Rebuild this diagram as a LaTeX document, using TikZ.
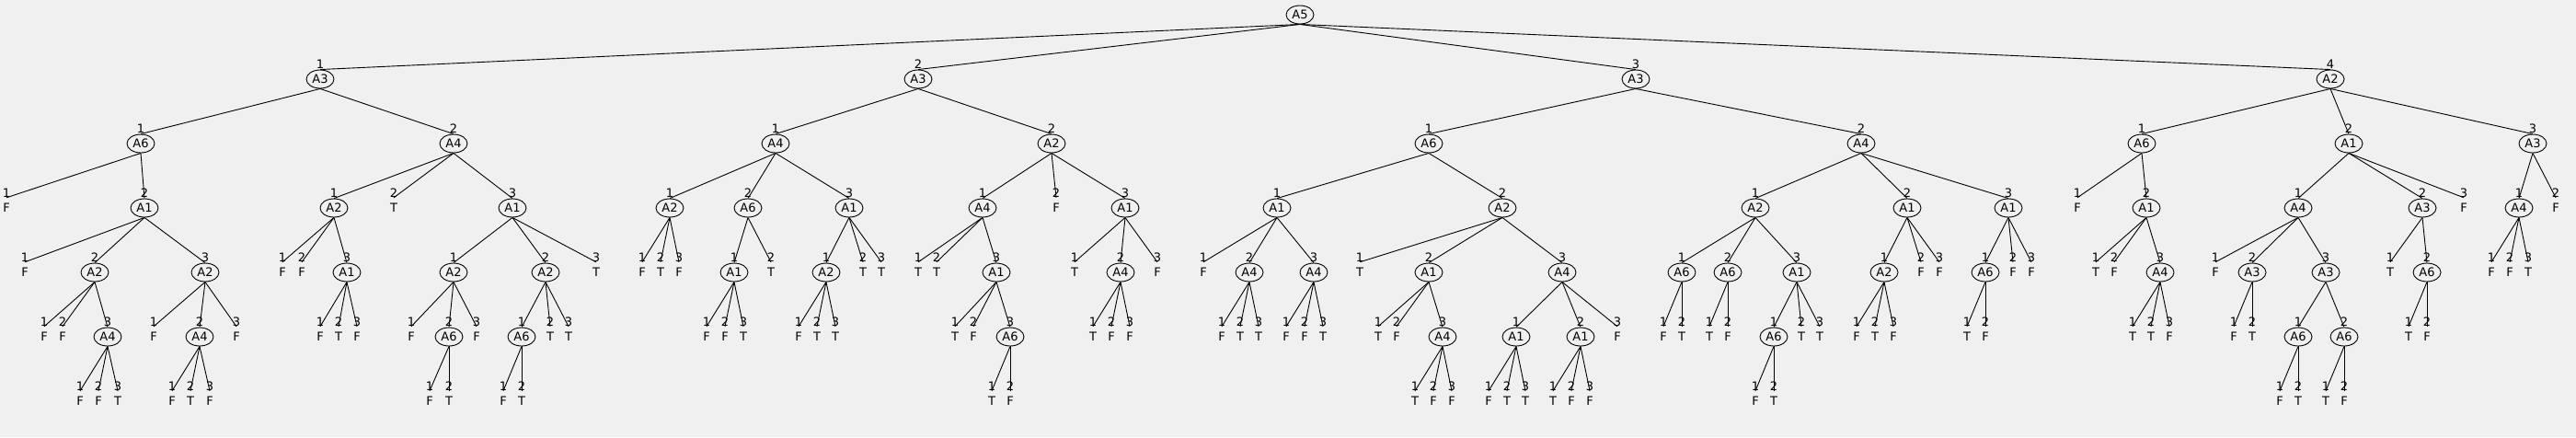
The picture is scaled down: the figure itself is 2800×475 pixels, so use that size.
\documentclass[tikz,border=0pt]{standalone}
\usepackage{fontspec}
\setmainfont{DejaVu Sans}
\usetikzlibrary{shapes.geometric}
\definecolor{bgc}{HTML}{F0F0F0}
\tikzset{
  att/.style={ellipse,draw=black,line width=0.9pt,minimum width=30pt,minimum height=20pt,inner sep=0pt,font=\fontsize{13}{15}\selectfont},
  leafn/.style={minimum height=22pt,inner sep=0pt,font=\fontsize{13}{15}\selectfont},
  brnum/.style={inner sep=0pt,font=\fontsize{13}{15}\selectfont},
  edge/.style={draw=black,line width=0.9pt}
}
\newcommand\In[5]{%
  \node[att] (#1#2) at (#3,{16+70*#4}) {#5};
  \node[brnum] (#1#2n) at (#3,{16+70*#4-16.5}) {#2};
  \draw[edge] (#1.south) -- (#1#2.north);}
\newcommand\Lf[5]{%
  \node[leafn] (#1#2) at (#3,{16+70*#4}) {#5};
  \node[brnum] (#1#2n) at (#3,{16+70*#4-16.5}) {#2};
  \draw[edge] (#1.south) -- (#1#2.north);}
\begin{document}
\begin{tikzpicture}[x=1pt,y=-1pt]
\fill[bgc] (0,0) rectangle (2800,475);
\useasboundingbox (0,0) rectangle (2800,475);
\node[att] (r) at (1413,16) {A5};
% branch 1
\In{r}{1}{348}{1}{A3}
 \In{r1}{1}{153}{2}{A6}
  \Lf{r11}{1}{7}{3}{F}
  \In{r11}{2}{157}{3}{A1}
   \Lf{r112}{1}{27}{4}{F}
   \In{r112}{2}{103}{4}{A2}
    \Lf{r1122}{1}{48}{5}{F}
    \Lf{r1122}{2}{68}{5}{F}
    \In{r1122}{3}{117}{5}{A4}
     \Lf{r11223}{1}{87}{6}{F}
     \Lf{r11223}{2}{107}{6}{F}
     \Lf{r11223}{3}{128}{6}{T}
   \In{r112}{3}{223}{4}{A2}
    \Lf{r1123}{1}{167}{5}{F}
    \In{r1123}{2}{217}{5}{A4}
     \Lf{r11232}{1}{187}{6}{F}
     \Lf{r11232}{2}{207}{6}{T}
     \Lf{r11232}{3}{228}{6}{F}
    \Lf{r1123}{3}{257}{5}{F}
 \In{r1}{2}{493}{2}{A4}
  \In{r12}{1}{363}{3}{A2}
   \Lf{r121}{1}{307}{4}{F}
   \Lf{r121}{2}{328}{4}{F}
   \In{r121}{3}{377}{4}{A1}
    \Lf{r1213}{1}{348}{5}{F}
    \Lf{r1213}{2}{368}{5}{T}
    \Lf{r1213}{3}{388}{5}{F}
  \Lf{r12}{2}{428}{3}{T}
  \In{r12}{3}{557}{3}{A1}
   \In{r123}{1}{493}{4}{A2}
    \Lf{r1231}{1}{447}{5}{F}
    \In{r1231}{2}{488}{5}{A6}
     \Lf{r12312}{1}{467}{6}{F}
     \Lf{r12312}{2}{488}{6}{T}
    \Lf{r1231}{3}{518}{5}{F}
   \In{r123}{2}{593}{4}{A2}
    \In{r1232}{1}{567}{5}{A6}
     \Lf{r12321}{1}{547}{6}{F}
     \Lf{r12321}{2}{567}{6}{T}
    \Lf{r1232}{2}{598}{5}{T}
    \Lf{r1232}{3}{618}{5}{T}
   \Lf{r123}{3}{648}{4}{T}
% branch 2
\In{r}{2}{998}{1}{A3}
 \In{r2}{1}{843}{2}{A4}
  \In{r21}{1}{728}{3}{A2}
   \Lf{r211}{1}{698}{4}{F}
   \Lf{r211}{2}{718}{4}{T}
   \Lf{r211}{3}{738}{4}{F}
  \In{r21}{2}{813}{3}{A6}
   \In{r212}{1}{798}{4}{A1}
    \Lf{r2121}{1}{768}{5}{F}
    \Lf{r2121}{2}{788}{5}{F}
    \Lf{r2121}{3}{808}{5}{T}
   \Lf{r212}{2}{838}{4}{T}
  \In{r21}{3}{923}{3}{A1}
   \In{r213}{1}{898}{4}{A2}
    \Lf{r2131}{1}{868}{5}{F}
    \Lf{r2131}{2}{888}{5}{T}
    \Lf{r2131}{3}{908}{5}{T}
   \Lf{r213}{2}{938}{4}{T}
   \Lf{r213}{3}{958}{4}{T}
 \In{r2}{2}{1143}{2}{A2}
  \In{r22}{1}{1068}{3}{A4}
   \Lf{r221}{1}{998}{4}{T}
   \Lf{r221}{2}{1018}{4}{T}
   \In{r221}{3}{1083}{4}{A1}
    \Lf{r2213}{1}{1038}{5}{T}
    \Lf{r2213}{2}{1058}{5}{F}
    \In{r2213}{3}{1098}{5}{A6}
     \Lf{r22133}{1}{1078}{6}{T}
     \Lf{r22133}{2}{1098}{6}{F}
  \Lf{r22}{2}{1148}{3}{F}
  \In{r22}{3}{1223}{3}{A1}
   \Lf{r223}{1}{1168}{4}{T}
   \In{r223}{2}{1218}{4}{A4}
    \Lf{r2232}{1}{1188}{5}{T}
    \Lf{r2232}{2}{1208}{5}{F}
    \Lf{r2232}{3}{1228}{5}{F}
   \Lf{r223}{3}{1258}{4}{F}
% branch 3
\In{r}{3}{1778}{1}{A3}
 \In{r3}{1}{1553}{2}{A6}
  \In{r31}{1}{1388}{3}{A1}
   \Lf{r311}{1}{1308}{4}{F}
   \In{r311}{2}{1358}{4}{A4}
    \Lf{r3112}{1}{1328}{5}{F}
    \Lf{r3112}{2}{1348}{5}{T}
    \Lf{r3112}{3}{1368}{5}{T}
   \In{r311}{3}{1428}{4}{A4}
    \Lf{r3113}{1}{1398}{5}{F}
    \Lf{r3113}{2}{1418}{5}{F}
    \Lf{r3113}{3}{1438}{5}{T}
  \In{r31}{2}{1633}{3}{A2}
   \Lf{r312}{1}{1478}{4}{T}
   \In{r312}{2}{1553}{4}{A1}
    \Lf{r3122}{1}{1498}{5}{T}
    \Lf{r3122}{2}{1518}{5}{F}
    \In{r3122}{3}{1568}{5}{A4}
     \Lf{r31223}{1}{1538}{6}{T}
     \Lf{r31223}{2}{1558}{6}{F}
     \Lf{r31223}{3}{1578}{6}{F}
   \In{r312}{3}{1698}{4}{A4}
    \In{r3123}{1}{1648}{5}{A1}
     \Lf{r31231}{1}{1618}{6}{F}
     \Lf{r31231}{2}{1638}{6}{T}
     \Lf{r31231}{3}{1658}{6}{T}
    \In{r3123}{2}{1718}{5}{A1}
     \Lf{r31232}{1}{1688}{6}{T}
     \Lf{r31232}{2}{1708}{6}{F}
     \Lf{r31232}{3}{1728}{6}{F}
    \Lf{r3123}{3}{1758}{5}{F}
 \In{r3}{2}{2023}{2}{A4}
  \In{r32}{1}{1908}{3}{A2}
   \In{r321}{1}{1828}{4}{A6}
    \Lf{r3211}{1}{1808}{5}{F}
    \Lf{r3211}{2}{1828}{5}{T}
   \In{r321}{2}{1878}{4}{A6}
    \Lf{r3212}{1}{1858}{5}{T}
    \Lf{r3212}{2}{1878}{5}{F}
   \In{r321}{3}{1953}{4}{A1}
    \In{r3213}{1}{1928}{5}{A6}
     \Lf{r32131}{1}{1908}{6}{F}
     \Lf{r32131}{2}{1928}{6}{T}
    \Lf{r3213}{2}{1958}{5}{T}
    \Lf{r3213}{3}{1978}{5}{T}
  \In{r32}{2}{2073}{3}{A1}
   \In{r322}{1}{2048}{4}{A2}
    \Lf{r3221}{1}{2018}{5}{F}
    \Lf{r3221}{2}{2038}{5}{T}
    \Lf{r3221}{3}{2058}{5}{F}
   \Lf{r322}{2}{2088}{4}{F}
   \Lf{r322}{3}{2108}{4}{F}
  \In{r32}{3}{2183}{3}{A1}
   \In{r323}{1}{2158}{4}{A6}
    \Lf{r3231}{1}{2138}{5}{T}
    \Lf{r3231}{2}{2158}{5}{F}
   \Lf{r323}{2}{2188}{4}{F}
   \Lf{r323}{3}{2208}{4}{F}
% branch 4
\In{r}{4}{2533}{1}{A2}
 \In{r4}{1}{2328}{2}{A6}
  \Lf{r41}{1}{2258}{3}{F}
  \In{r41}{2}{2333}{3}{A1}
   \Lf{r412}{1}{2278}{4}{T}
   \Lf{r412}{2}{2298}{4}{F}
   \In{r412}{3}{2348}{4}{A4}
    \Lf{r4123}{1}{2318}{5}{T}
    \Lf{r4123}{2}{2338}{5}{T}
    \Lf{r4123}{3}{2358}{5}{F}
 \In{r4}{2}{2553}{2}{A1}
  \In{r42}{1}{2498}{3}{A4}
   \Lf{r421}{1}{2408}{4}{F}
   \In{r421}{2}{2448}{4}{A3}
    \Lf{r4212}{1}{2428}{5}{F}
    \Lf{r4212}{2}{2448}{5}{T}
   \In{r421}{3}{2528}{4}{A3}
    \In{r4213}{1}{2498}{5}{A6}
     \Lf{r42131}{1}{2478}{6}{F}
     \Lf{r42131}{2}{2498}{6}{T}
    \In{r4213}{2}{2548}{5}{A6}
     \Lf{r42132}{1}{2528}{6}{T}
     \Lf{r42132}{2}{2548}{6}{F}
  \In{r42}{2}{2633}{3}{A3}
   \Lf{r422}{1}{2598}{4}{T}
   \In{r422}{2}{2638}{4}{A6}
    \Lf{r4222}{1}{2618}{5}{T}
    \Lf{r4222}{2}{2638}{5}{F}
  \Lf{r42}{3}{2678}{3}{F}
 \In{r4}{3}{2753}{2}{A3}
  \In{r43}{1}{2738}{3}{A4}
   \Lf{r431}{1}{2708}{4}{F}
   \Lf{r431}{2}{2728}{4}{F}
   \Lf{r431}{3}{2748}{4}{T}
  \Lf{r43}{2}{2778}{3}{F}
\end{tikzpicture}
\end{document}
